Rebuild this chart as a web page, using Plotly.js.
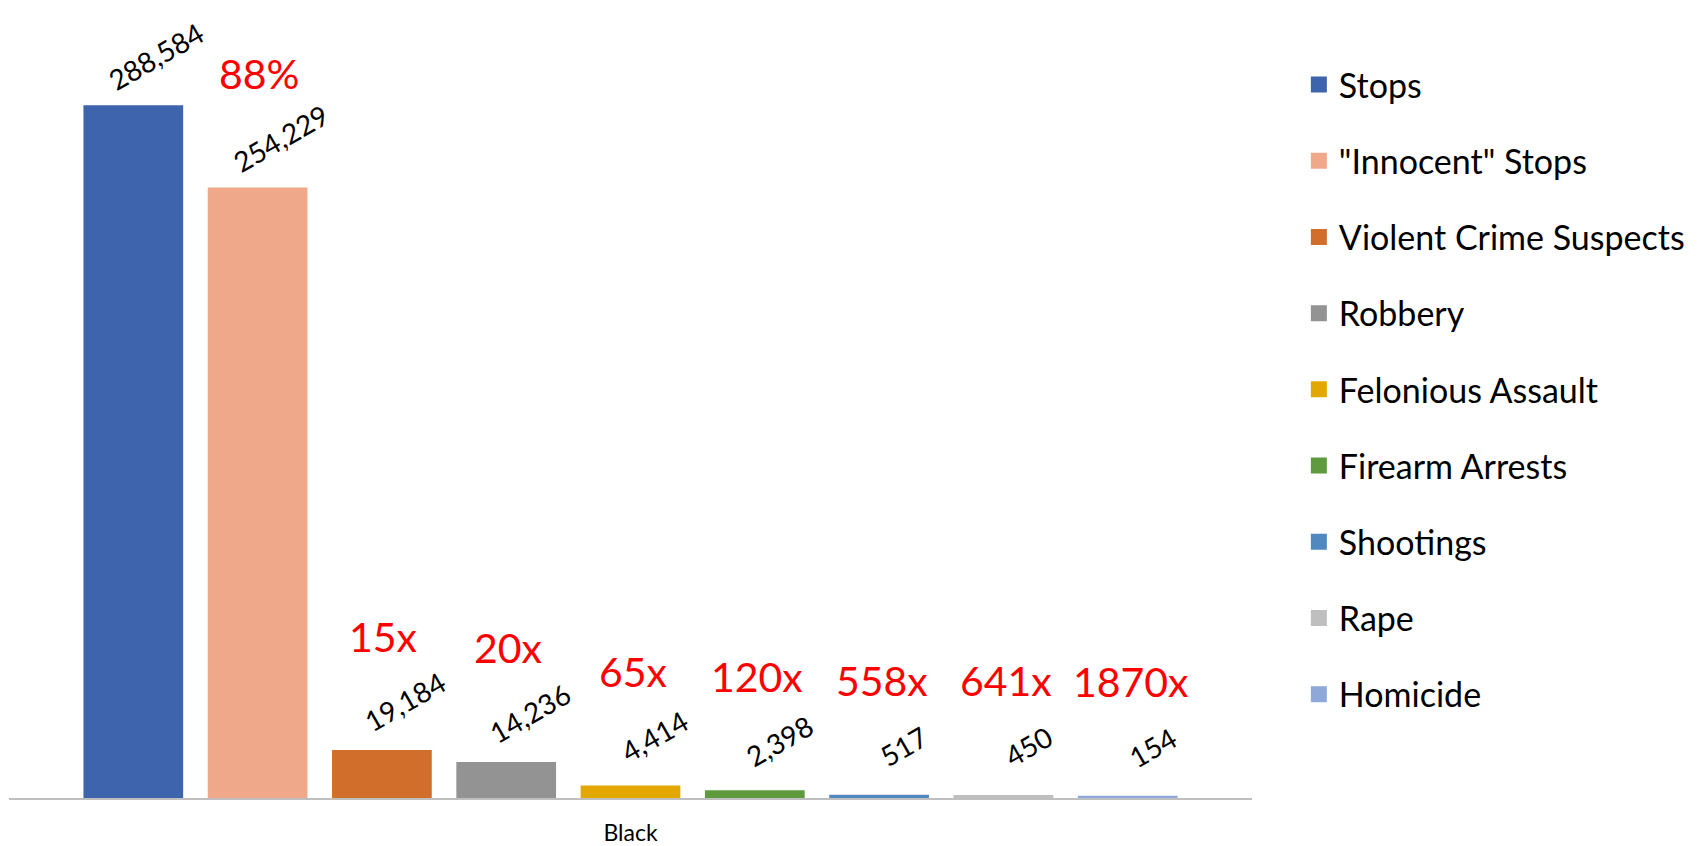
<!DOCTYPE html>
<html>
<head>
<meta charset="utf-8">
<script src="https://cdn.plot.ly/plotly-3.0.1.min.js"></script>
<style>html,body{margin:0;padding:0;background:#fff;}#chart{width:1699px;height:846px;}</style>
</head>
<body>
<div id="chart"></div>
<script>
const categories = ['Black'];
const seriesNames = ['Stops', '"Innocent" Stops', 'Violent Crime Suspects', 'Robbery', 'Felonious Assault', 'Firearm Arrests', 'Shootings', 'Rape', 'Homicide'];
const seriesValues = [288584, 254229, 19184, 14236, 4414, 2398, 517, 450, 154];
const ratioLabels = ['', '88%', '15x', '20x', '65x', '120x', '558x', '641x', '1870x'];
const seriesColors = ['#3D64AC', '#F0A88A', '#D16E2C', '#939393', '#E3A800', '#5F9A3E', '#5089BF', '#BFBFBF', '#8FA7D9'];

const FONT = 'Lato, "Noto Sans", sans-serif';
const W = 1699, H = 846;
const margin = {l: 9, r: 444, t: 20, b: 48};
const bargap = 0.1, bargroupgap = 0.23;
const plotW = W - margin.l - margin.r;
const n = seriesValues.length;
const slot = plotW * (1 - bargap) / n;

const traces = seriesNames.map((name, i) => ({
  type: 'bar',
  name: name,
  x: categories,
  y: [seriesValues[i]],
  marker: {color: seriesColors[i], line: {color: seriesColors[i], width: 4}},
  legendgroup: 'g' + i,
  hoverinfo: 'name+y'
}));

const annotations = [];
seriesValues.forEach((v, i) => {
  const off = (i - (n - 1) / 2) * slot;
  annotations.push({
    x: categories[0], y: v, xref: 'x', yref: 'y',
    text: v.toLocaleString('en-US'),
    showarrow: false, textangle: -30,
    xanchor: 'center', yanchor: 'middle',
    xshift: off + 24, yshift: 51,
    font: {family: FONT, size: 28, color: '#000'}
  });
  if (ratioLabels[i]) {
    annotations.push({
      x: categories[0], y: v, xref: 'x', yref: 'y',
      text: ratioLabels[i],
      showarrow: false,
      xanchor: 'center', yanchor: 'middle',
      xshift: off + 2, yshift: 116,
      font: {family: FONT, size: 41, color: '#FF0000'}
    });
  }
});

const layout = {
  width: W, height: H,
  margin: margin,
  paper_bgcolor: '#fff', plot_bgcolor: '#fff',
  barmode: 'group', bargap: bargap, bargroupgap: bargroupgap,
  showlegend: true,
  legend: {
    x: 1.0377, xanchor: 'left', y: 0.9538, yanchor: 'top',
    font: {family: FONT, size: 34, color: '#000'},
    tracegroupgap: 29, traceorder: 'grouped',
    bgcolor: 'rgba(0,0,0,0)'
  },
  xaxis: {
    showline: true, linecolor: '#BFBFBF', linewidth: 1.5,
    ticks: '', ticklabelstandoff: 14,
    tickfont: {family: FONT, size: 23, color: '#000'},
    showgrid: false, zeroline: false
  },
  yaxis: {
    range: [0, 325000], visible: false, showgrid: false, zeroline: false
  },
  annotations: annotations
};

Plotly.newPlot('chart', traces, layout, {displayModeBar: false, staticPlot: true});
</script>
</body>
</html>
